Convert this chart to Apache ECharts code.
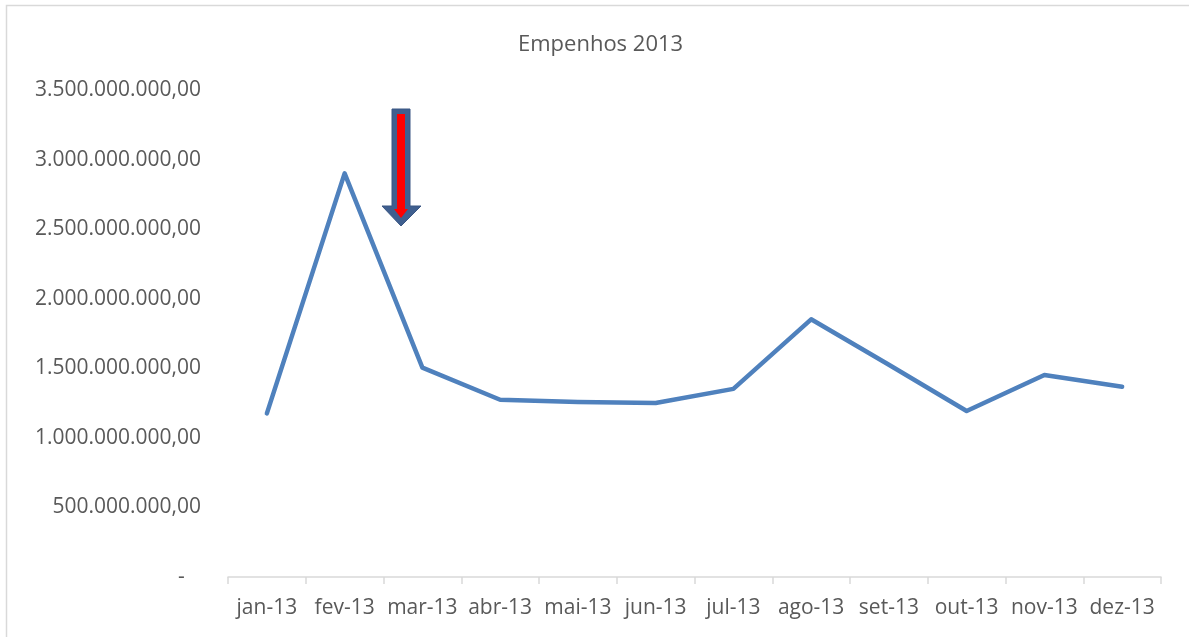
<!DOCTYPE html>
<html>
<head>
<meta charset="utf-8">
<script src="https://cdn.jsdelivr.net/npm/echarts@6/dist/echarts.min.js"></script>
<style>
  html, body { margin: 0; padding: 0; background: #fff; }
  #chart { width: 1189px; height: 637px; }
</style>
</head>
<body>
<div id="chart"></div>
<script>
const months = ['jan-13', 'fev-13', 'mar-13', 'abr-13', 'mai-13', 'jun-13',
  'jul-13', 'ago-13', 'set-13', 'out-13', 'nov-13', 'dez-13']
const empenhos = [1176000000, 2901000000, 1505000000, 1274000000, 1258000000, 1250000000,
  1352000000, 1852000000, 1525000000, 1193000000, 1452000000, 1368000000]
const yMin = 0
const yMax = 3500000000
const yStep = 500000000

const fontFamily = '"Open Sans", "Noto Sans", sans-serif'
const textColor = '#595959'

// Excel accounting style: 1.500.000.000,00 and "-" for zero
const fmtValue = v => {
  if (v === 0) return '-   '
  const int = Math.round(v).toString().replace(/\B(?=(\d{3})+(?!\d))/g, '.')
  return int + ',00'
}

const chart = echarts.init(document.getElementById('chart'))

chart.setOption({
  animation: false,
  title: {
    text: 'Empenhos 2013',
    left: 513,
    top: 29,
    textStyle: { fontFamily, fontSize: 22, fontWeight: 'normal', color: textColor },
  },
  grid: { left: 228, right: 28, top: 90, bottom: 60 },
  xAxis: {
    type: 'category',
    data: months,
    boundaryGap: true,
    axisLine: { lineStyle: { color: '#D9D9D9', width: 1.5 } },
    axisTick: { show: true, length: 7, inside: false, lineStyle: { color: '#D9D9D9', width: 1.5 } },
    axisLabel: { fontFamily, fontSize: 21, color: textColor, margin: 21, interval: 0 },
  },
  yAxis: {
    type: 'value',
    min: yMin,
    max: yMax,
    interval: yStep,
    axisLine: { show: false },
    axisTick: { show: false },
    splitLine: { show: false },
    axisLabel: {
      fontFamily, fontSize: 21, color: textColor, margin: 27, formatter: fmtValue,
      padding: [3, 0, 0, 0],
    },
  },
  series: [{
    type: 'line',
    data: empenhos,
    symbol: 'none',
    lineStyle: { color: '#4F81BD', width: 4.5, cap: 'round', join: 'round' },
  }],
  graphic: [
    {
      type: 'rect',
      shape: { x: 6.5, y: 5.5, width: 1300, height: 700 },
      style: { fill: 'none', stroke: '#D9D9D9', lineWidth: 1.5 },
      silent: true,
    },
    {
      // annotation arrow, outer dark blue outline
      type: 'polygon',
      shape: { points: [[392, 109], [410, 109], [410, 206], [421, 206], [401, 226], [382, 206], [392, 206]] },
      style: { fill: '#3F5F8F', stroke: '#3A5683', lineWidth: 1 },
      silent: true,
    },
    {
      // inner red arrow
      type: 'polygon',
      shape: { points: [[397, 114], [405, 114], [405, 209], [408, 209], [401, 218], [394, 209], [397, 209]] },
      style: { fill: '#FF0000' },
      silent: true,
    },
  ],
})
</script>
</body>
</html>
